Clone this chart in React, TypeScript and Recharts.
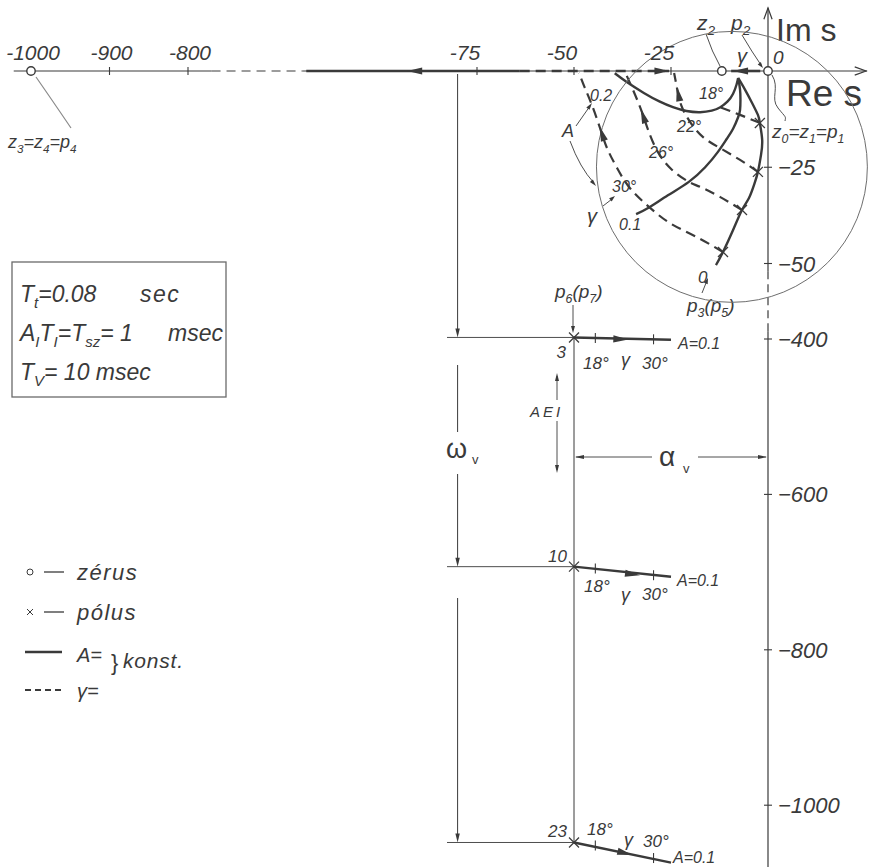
import React from 'react'
import { ComposedChart, Line, Scatter, XAxis, YAxis, ReferenceDot, Customized } from 'recharts'

type Pt = [number, number]

const W = 869
const H = 867
const INK = '#3a3a3a'
const FONT = '"Liberation Sans", Arial, sans-serif'

// axis ticks (both axes are broken)
const reTicksFar = [-1000, -900, -800]
const reTicksNear = [-75, -50, -25]
const imTicks = [-25, -50, -400, -600, -800, -1000]

// root loci, A = const (solid)
const locusA02: Pt[] = [[-39.5, -0.6], [-36.5, -2.8], [-32, -5.7], [-28, -7.9], [-24.5, -9.4], [-21, -10.4], [-17.5, -10.7], [-14.5, -10.3], [-12.3, -9.4], [-10.4, -7.9], [-9, -5.9], [-8.1, -3.5], [-7.7, -1.8]]
const locusA01: Pt[] = [[-34, -37.2], [-30.9, -35.6], [-25.8, -32.3], [-20.4, -28.8], [-16.2, -25], [-12.9, -21], [-10.6, -17.6], [-9, -15], [-7.7, -12], [-7.2, -10.1], [-7.1, -7.5], [-7.2, -4.9], [-7.6, -2.2]]
const locusA0: Pt[] = [[-7.7, -1.8], [-5.9, -4.9], [-4.1, -8.3], [-2.6, -11.4], [-2.1, -13.5], [-1.5, -17.9], [-1.8, -21.8], [-2.6, -26.2], [-3.6, -29.6], [-4.9, -33], [-6.7, -36.1], [-9, -41.3], [-11.6, -47], [-13.4, -50.4]]

// gamma = const (dashed)
const gamma18: Pt[] = [[-2.1, -13.5], [-7.2, -11.4], [-12.4, -9.4]]
const gamma22: Pt[] = [[-2.6, -26.2], [-7.2, -23.1], [-12.4, -20], [-16.8, -17.1], [-20.1, -13.2], [-22.4, -8.8], [-23.5, -4.2], [-24.2, -0.5]]
const gamma26: Pt[] = [[-6.7, -36.1], [-12.4, -32.7], [-17.5, -30.1], [-20.4, -28.8], [-24.7, -25.7], [-28.4, -21], [-30.9, -15.3], [-32.7, -10.1], [-34.8, -4.9], [-36.6, -0.8]]
const gamma30: Pt[] = [[-11.6, -47], [-18.8, -42.9], [-25.3, -39.5], [-30.9, -35.1], [-35.6, -30.4], [-38.9, -25.2], [-41.5, -20], [-43.3, -14.8], [-45.4, -8.8], [-47.2, -4.4], [-48.7, -0.5]]
const gammaPoles: Pt[] = [[-2.1, -13.5], [-2.6, -26.2], [-6.7, -36.1], [-11.6, -47]]

// branches on the real axis
const branchFar: Pt[] = [[-119, 0], [-64, 0]]
const branchNear: Pt[] = [[-64, 0], [-25.5, 0]]
const branchP2: Pt[] = [[-2, 0], [-9.5, 0]]

const zeros: Pt[] = [[-1000, 0], [-11.9, 0], [0, 0]]

// high-frequency poles (3, 10, 23) and their loci up to A = 0.1
const hfPoles: Pt[] = [[-50, -398], [-50, -693], [-50, -1048]]
const hfEnds: Pt[] = [[-25, -401], [-25, -706], [-25, -1074]]
const hfMarks: Pt[] = [[-44.5, -398.6], [-29.5, -400.4], [-44.5, -695.5], [-29.5, -704], [-44.5, -1052], [-29.5, -1068]]

// arrowheads: tip, then a point behind the tip
const arrows: [number, number, number, number][] = [
  [-93, 0, -80, 0],
  [-25.4, 0, -31, 0],
  [-9, 0, -4, 0],
  [-23.5, -4, -22.6, -8.5],
  [-32.8, -9.8, -31.2, -14.6],
  [-43.4, -14.4, -41.7, -19.5],
  [-36, -400.5, -45, -399],
  [-33, -704, -42, -698],
  [-35, -1064, -44, -1053],
]

const circle = { re: -9.3, im: -24.9, radius: 35 }

// broken-axis transforms into drawing units
const sx = (re: number) => (re > -300 ? 768 + 3.88 * re : 31 + 0.785 * (re + 1000))
const sy = (im: number) => (im > -200 ? 71 - 3.85 * im : 339 - 0.777 * (im + 400))
const xy = (d: Pt[]) => d.map(([re, im]) => ({ x: sx(re), y: sy(im) }))

const curve = (key: string, d: Pt[], w: number, dash?: string, type: 'natural' | 'linear' = 'natural', color = INK) => (
  <Line key={key} data={xy(d)} dataKey="y" type={type} stroke={color} strokeWidth={w} strokeDasharray={dash}
    dot={false} activeDot={false} isAnimationActive={false} legendType="none" />
)

const parse = (s: string): [string, boolean][] => {
  const out: [string, boolean][] = []
  let buf = ''
  let i = 0
  while (i < s.length) {
    if (s[i] === '_') {
      if (buf) out.push([buf, false])
      buf = ''
      if (s[i + 1] === '{') {
        const j = s.indexOf('}', i)
        out.push([s.slice(i + 2, j), true])
        i = j + 1
      } else {
        out.push([s[i + 1], true])
        i += 2
      }
    } else {
      buf += s[i]
      i++
    }
  }
  if (buf) out.push([buf, false])
  return out
}

function Txt({ x, y, s, size = 19, anchor, italic = true, halo, spacing, sub }: any) {
  let low = false
  const dy = Math.round(size * 0.25)
  return (
    <text x={x} y={y} fontSize={size} fontStyle={italic ? 'italic' : 'normal'} textAnchor={anchor} letterSpacing={spacing}
      fill={INK} stroke={halo ? '#fff' : 'none'} strokeWidth={halo ? 4 : 0} paintOrder="stroke" fontFamily={FONT}>
      {parse(s).map(([t, isSub], i) => {
        const d = isSub && !low ? dy : !isSub && low ? -dy : 0
        low = isSub
        return <tspan key={i} dy={d || undefined} fontSize={isSub ? (sub ?? size * 0.65) : undefined}>{t}</tspan>
      })}
    </text>
  )
}

const L = ({ x1, y1, x2, y2, w = 1, dash, c = INK }: any) => (
  <line x1={x1} y1={y1} x2={x2} y2={y2} stroke={c} strokeWidth={w} strokeDasharray={dash} />
)

function Head({ x, y, ang, len = 8, half = 2.3 }: any) {
  const bx = x - len * Math.cos(ang)
  const by = y - len * Math.sin(ang)
  const nx = -Math.sin(ang) * half
  const ny = Math.cos(ang) * half
  return <polygon points={`${x},${y} ${bx + nx},${by + ny} ${bx - nx},${by - ny}`} fill={INK} />
}

const Chevron = ({ x, y, ang }: any) => {
  const a1 = ang + Math.PI - 0.35
  const a2 = ang + Math.PI + 0.35
  return (
    <path d={`M${x + 12 * Math.cos(a1)},${y + 12 * Math.sin(a1)} L${x},${y} L${x + 12 * Math.cos(a2)},${y + 12 * Math.sin(a2)}`}
      fill="none" stroke={INK} strokeWidth={1.2} />
  )
}

function Notes() {
  const ox = sx(0)
  const oy = sy(0)
  const wx = sx(-80)
  return (
    <g>
      {/* axis arrows and titles */}
      <Chevron x={866} y={oy} ang={0} />
      <Chevron x={ox} y={8} ang={-Math.PI / 2} />
      <Txt x={776} y={41} s="Im s" size={32} italic={false} />
      <Txt x={786} y={106} s="Re s" size={37} italic={false} />
      <Txt x={773} y={64} s="0" size={19} />

      {/* labels near the origin */}
      <Txt x={697} y={30} s="z_2" size={21} />
      <Txt x={731} y={30} s="p_2" size={21} />
      <path d="M706 34 Q712 52 720 66" fill="none" stroke={INK} strokeWidth={0.9} />
      <path d="M742 35 Q752 52 761 65" fill="none" stroke={INK} strokeWidth={0.9} />
      <Head x={763} y={68} ang={0.9} len={6} half={2} />
      <Txt x={737} y={63} s="γ" size={20} />
      <path d="M772 75 C780 88 770 98 778 108 S786 116 785 121" fill="none" stroke={INK} strokeWidth={0.9} />
      <Txt x={772} y={138} s="z_0=z_1=p_1" size={19} />

      {/* curve labels */}
      <Txt x={590} y={101} s="0.2" size={16} halo />
      <Txt x={699} y={99} s="18°" size={16} halo />
      <Txt x={677} y={132} s="22°" size={16} halo />
      <Txt x={649} y={158} s="26°" size={16} halo />
      <Txt x={612} y={192} s="30°" size={16} halo />
      <Txt x={619} y={230} s="0.1" size={16} halo />
      <Txt x={698} y={283} s="0" size={17} />
      <Txt x={562} y={137} s="A" size={18} />
      <L x1={576} y1={126} x2={590} y2={106} w={0.9} />
      <Head x={592} y={103} ang={-0.95} len={7} half={2} />
      <path d="M570 141 Q580 168 594 183" fill="none" stroke={INK} strokeWidth={0.9} />
      <Head x={596} y={186} ang={0.85} len={7} half={2} />
      <Txt x={587} y={223} s="γ" size={20} />
      <L x1={603} y1={206} x2={612} y2={199} w={0.9} />
      <Head x={615} y={196} ang={-0.7} len={6} half={2} />
      <Txt x={687} y={312} s="p_3(p_5)" size={19} />
      <L x1={702} y1={293} x2={706} y2={283} w={0.9} />
      <Head x={708} y={278} ang={-1.2} len={6} half={2} />

      {/* far zero on the real axis */}
      <path d="M36 77 Q52 100 71 128" fill="none" stroke="#8a8a8a" strokeWidth={1.2} />
      <Txt x={8} y={148} s="z_3=z_4=p_4" size={18} />

      {/* high-frequency poles */}
      <Txt x={555} y={298} s="p_6(p_7)" size={19} />
      <L x1={573} y1={305} x2={573} y2={330} w={0.9} />
      <Head x={573} y={333} ang={Math.PI / 2} len={7} half={2} />
      <Txt x={566} y={358} s="3" size={17} anchor="end" />
      <Txt x={583} y={369} s="18°" size={17} />
      <Txt x={621} y={366} s="γ" size={18} />
      <Txt x={642} y={369} s="30°" size={17} />
      <Txt x={678} y={349} s="A=0.1" size={16} />
      <Txt x={567} y={562} s="10" size={17} anchor="end" />
      <Txt x={584} y={592} s="18°" size={17} />
      <Txt x={621} y={601} s="γ" size={18} />
      <Txt x={642} y={600} s="30°" size={17} />
      <Txt x={677} y={586} s="A=0.1" size={16} />
      <Txt x={567} y={837} s="23" size={17} anchor="end" />
      <Txt x={587} y={835} s="18°" size={17} />
      <Txt x={624} y={846} s="γ" size={18} />
      <Txt x={643} y={847} s="30°" size={17} />
      <Txt x={673} y={863} s="A=0.1" size={16} />

      {/* omega_v dimension */}
      <L x1={wx} y1={oy + 3} x2={wx} y2={334} />
      <Head x={wx} y={sy(-398)} ang={Math.PI / 2} len={9} half={2.2} />
      <L x1={wx} y1={365} x2={wx} y2={432} />
      <L x1={wx} y1={474} x2={wx} y2={563} />
      <Head x={wx} y={sy(-693)} ang={Math.PI / 2} len={9} half={2.2} />
      <L x1={wx} y1={598} x2={wx} y2={839} />
      <Head x={wx} y={sy(-1048)} ang={Math.PI / 2} len={9} half={2.2} />
      <L x1={447} y1={sy(-398)} x2={sx(-50)} y2={sy(-398)} w={0.9} />
      <L x1={447} y1={sy(-693)} x2={sx(-50)} y2={sy(-693)} w={0.9} />
      <L x1={447} y1={sy(-1048)} x2={sx(-50)} y2={sy(-1048)} w={0.9} />
      <Txt x={446} y={458} s="ω" size={27} italic={false} />
      <Txt x={472} y={464} s="v" size={13} italic={false} />

      {/* AEI */}
      <L x1={557} y1={376} x2={557} y2={400} w={0.9} />
      <L x1={557} y1={421} x2={557} y2={470} w={0.9} />
      <Head x={557} y={373} ang={-Math.PI / 2} len={8} half={2} />
      <Head x={557} y={473} ang={Math.PI / 2} len={8} half={2} />
      <Txt x={530} y={417} s="AEI" size={15} spacing={3} />

      {/* alpha_v dimension */}
      <L x1={sx(-50) + 2} y1={457} x2={652} y2={457} w={0.9} />
      <L x1={698} y1={457} x2={ox - 2} y2={457} w={0.9} />
      <Head x={sx(-50) + 1} y={457} ang={Math.PI} len={9} half={2} />
      <Head x={ox - 1} y={457} ang={0} len={9} half={2} />
      <Txt x={659} y={466} s="α" size={28} italic={false} />
      <Txt x={683} y={473} s="v" size={13} italic={false} />

      {/* parameter box */}
      <rect x={12} y={262} width={214} height={135} fill="none" stroke="#6a6a6a" strokeWidth={1.3} />
      <Txt x={20} y={302} s="T_t=0.08" size={23} />
      <Txt x={140} y={302} s="sec" size={23} spacing={1.5} />
      <Txt x={20} y={341} s="A_IT_I=T_{sz}= 1" size={23} />
      <Txt x={168} y={341} s="msec" size={23} />
      <Txt x={20} y={380} s="T_V= 10 msec" size={23} />

      {/* key */}
      <circle cx={30} cy={572} r={3} fill="#fff" stroke={INK} strokeWidth={1} />
      <L x1={44} y1={572} x2={64} y2={572} w={1.3} />
      <Txt x={77} y={580} s="zérus" size={22} spacing={1.5} />
      <L x1={27} y1={609} x2={33} y2={615} w={1} />
      <L x1={33} y1={609} x2={27} y2={615} w={1} />
      <L x1={44} y1={612} x2={64} y2={612} w={1.3} />
      <Txt x={77} y={620} s="pólus" size={22} spacing={1.5} />
      <L x1={25} y1={652} x2={62} y2={652} w={2.6} />
      <Txt x={77} y={662} s="A=" size={20} />
      <L x1={25} y1={690} x2={62} y2={690} w={2.2} dash="6 4" />
      <Txt x={77} y={698} s="γ=" size={20} />
      <Txt x={111} y={670} s="}" size={22} italic={false} />
      <Txt x={123} y={668} s="konst." size={21} spacing={0.8} />
    </g>
  )
}

const tickRe = (props: any) => {
  const { cx, cy, payload } = props
  return (
    <g>
      <line x1={cx} y1={cy - 4} x2={cx} y2={cy + 4} stroke={INK} strokeWidth={1.1} />
      <Txt x={cx + payload.dx} y={cy - 11} s={payload.label} size={21} anchor="middle" />
    </g>
  )
}

const tickIm = (props: any) => {
  const { cx, cy, payload } = props
  return (
    <g>
      <line x1={cx - 4} y1={cy} x2={cx + 4} y2={cy} stroke={INK} strokeWidth={1.1} />
      <Txt x={cx + 10} y={cy + 8} s={payload.label} size={22} />
    </g>
  )
}

const poleMark = (props: any) => {
  const { cx, cy } = props
  return (
    <g stroke={INK} strokeWidth={1.3}>
      <line x1={cx - 5} y1={cy - 5} x2={cx + 5} y2={cy + 5} />
      <line x1={cx - 5} y1={cy + 5} x2={cx + 5} y2={cy - 5} />
    </g>
  )
}

const zeroMark = (props: any) => <circle cx={props.cx} cy={props.cy} r={4.2} fill="#fff" stroke={INK} strokeWidth={1.4} />

const crossTick = (props: any) => (
  <line x1={props.cx} y1={props.cy - 5} x2={props.cx} y2={props.cy + 5} stroke={INK} strokeWidth={1.1} />
)

const arrowMark = (props: any) => {
  const { cx, cy, payload } = props
  return <Head x={cx} y={cy} ang={payload.ang} len={15} half={3.6} />
}

export default function App() {
  const reTickData = [
    ...reTicksFar.map((v) => ({ x: sx(v), y: sy(0), label: String(v), dx: 2 })),
    ...reTicksNear.map((v) => ({ x: sx(v), y: sy(0), label: String(v), dx: -12 })),
  ]
  const imTickData = imTicks.map((v) => ({ x: sx(0), y: sy(v), label: '−' + Math.abs(v) }))
  const arrowData = arrows.map(([re, im, fr, fi]) => ({
    x: sx(re),
    y: sy(im),
    ang: Math.atan2(sy(im) - sy(fi), sx(re) - sx(fr)),
  }))
  const scat = (key: string, data: any[], shape: any) => (
    <Scatter key={key} data={data} shape={shape} isAnimationActive={false} legendType="none" />
  )

  return (
    <div style={{ position: 'absolute', left: 0, top: 0, width: W, height: H, background: '#fff' }}>
      <ComposedChart width={W} height={H} margin={{ top: 0, right: 0, bottom: 0, left: 0 }}>
        <XAxis type="number" dataKey="x" domain={[0, W]} hide allowDataOverflow />
        <YAxis type="number" dataKey="y" domain={[0, H]} reversed hide allowDataOverflow />

        <ReferenceDot x={sx(circle.re)} y={sy(circle.im)} r={circle.radius * 3.87} fill="none" stroke="#6e6e6e" strokeWidth={1} ifOverflow="visible" />

        {/* axes */}
        {curve('reFar', [[-1022, 0], [-770, 0]], 1.2, undefined, 'linear')}
        {curve('reBreak', [[-770, 0], [-120, 0]], 1.2, '9 6', 'linear')}
        {curve('reNear', [[-120, 0], [25.5, 0]], 1.2, undefined, 'linear')}
        {curve('imNear', [[0, 16.4], [0, -52]], 1.2, undefined, 'linear')}
        {curve('imBreak', [[0, -52], [0, -390]], 1.2, '8 5', 'linear')}
        {curve('imFar', [[0, -390], [0, -1082]], 1.2, undefined, 'linear')}
        {curve('hfGuide', [hfPoles[0], hfPoles[2]], 1, undefined, 'linear')}

        {/* loci */}
        {curve('bFar', branchFar, 2.6, undefined, 'linear')}
        {curve('bNear', branchNear, 2.6, '10 6', 'linear')}
        {curve('bP2', branchP2, 2.6, undefined, 'linear')}
        {curve('a02', locusA02, 2.4)}
        {curve('a01', locusA01, 2.4)}
        {curve('a0', locusA0, 2.4)}
        {curve('g18', gamma18, 2.2, '10 6')}
        {curve('g22', gamma22, 2.2, '10 6')}
        {curve('g26', gamma26, 2.2, '10 6')}
        {curve('g30', gamma30, 2.2, '10 6')}
        {hfPoles.map((p, i) => curve('hf' + i, [p, hfEnds[i]], 2.4, undefined, 'linear'))}

        {scat('reTicks', reTickData, tickRe)}
        {scat('imTicks', imTickData, tickIm)}
        {scat('hfTicks', xy(hfMarks), crossTick)}
        {scat('arrows', arrowData, arrowMark)}
        {scat('poles', xy([...gammaPoles, ...hfPoles]), poleMark)}
        {scat('zeros', xy(zeros), zeroMark)}

        <Customized component={Notes} />
      </ComposedChart>
    </div>
  )
}
